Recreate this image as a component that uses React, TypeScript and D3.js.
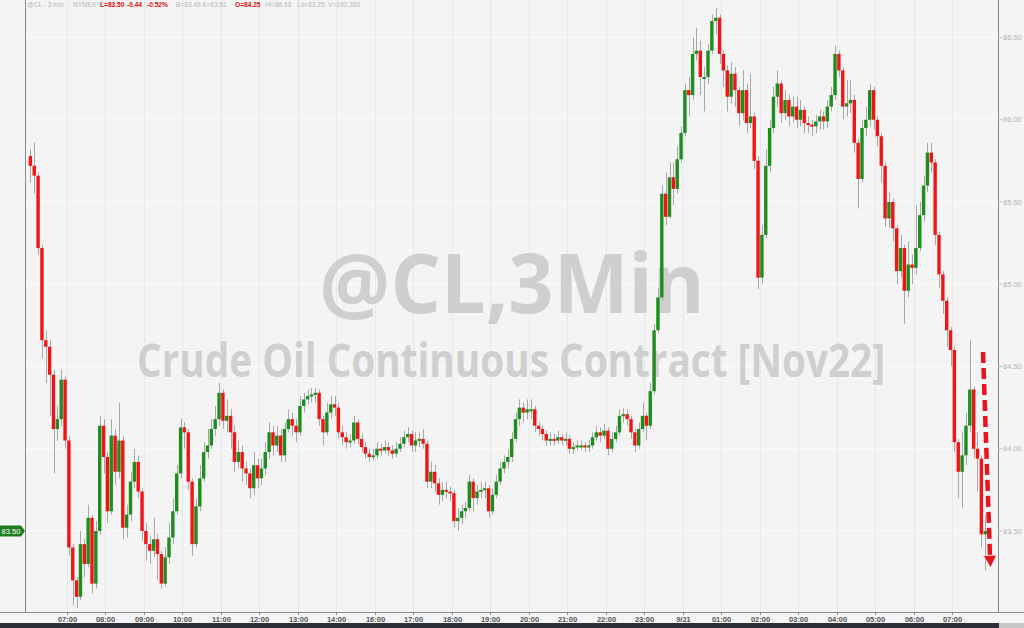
import React from "react";
import * as d3 from "d3";

const firstOpen = 85.78;
const closes = [
  85.72, 85.66, 85.22, 84.66, 84.62, 84.45, 84.12, 84.18, 84.42, 84.05,
  83.40, 83.20, 83.10, 83.42, 83.30, 83.58, 83.18, 83.50, 84.14, 83.95,
  83.62, 84.08, 83.86, 84.05, 83.52, 83.60, 83.80, 83.92, 83.74, 83.50,
  83.42, 83.38, 83.45, 83.36, 83.18, 83.34, 83.46, 83.62, 83.85, 84.13,
  84.10, 83.80, 83.42, 83.65, 83.82, 83.98, 84.02, 84.12, 84.18, 84.34,
  84.17, 84.20, 84.10, 83.92, 83.98, 83.88, 83.85, 83.76, 83.90, 83.82,
  83.88, 83.98, 84.10, 84.02, 84.08, 83.96, 84.12, 84.18, 84.14, 84.10,
  84.26, 84.30, 84.32, 84.33, 84.34, 84.18, 84.10, 84.22, 84.27, 84.25,
  84.10, 84.07, 84.04, 84.05, 84.16, 84.06, 84.01, 83.97, 83.95, 83.96,
  84.00, 83.99, 84.01, 83.99, 83.97, 84.00, 84.03, 84.07, 84.09, 84.02,
  84.05, 84.06, 84.03, 83.80, 83.86, 83.79, 83.72, 83.75, 83.74, 83.73,
  83.56, 83.58, 83.62, 83.64, 83.80, 83.70, 83.74, 83.75, 83.76, 83.62,
  83.72, 83.80, 83.88, 83.92, 83.95, 84.06, 84.18, 84.25, 84.22, 84.24,
  84.24, 84.14, 84.12, 84.09, 84.05, 84.06, 84.05, 84.07, 84.05, 84.06,
  84.00, 84.01, 84.02, 84.02, 84.01, 84.02, 84.07, 84.10, 84.08, 84.11,
  84.00, 84.06, 84.10, 84.20, 84.21, 84.18, 84.10, 84.02, 84.12, 84.20,
  84.14, 84.35, 84.72, 84.92, 85.55, 85.41, 85.65, 85.58, 85.76, 85.92,
  86.18, 86.15, 86.40, 86.42, 86.26, 86.26, 86.42, 86.60, 86.62, 86.40,
  86.30, 86.14, 86.28, 86.18, 86.04, 86.18, 85.98, 86.02, 85.75, 85.04,
  85.30, 85.72, 85.95, 86.14, 86.22, 86.04, 86.12, 86.02, 86.08, 86.00,
  86.06, 85.98, 85.97, 85.96, 85.99, 86.02, 85.99, 86.08, 86.15, 86.40,
  86.30, 86.08, 86.10, 86.12, 85.86, 85.64, 85.95, 86.00, 86.18, 86.00,
  85.90, 85.72, 85.40, 85.50, 85.34, 85.08, 85.22, 84.96, 85.12, 85.10,
  85.22, 85.42, 85.60, 85.80, 85.74, 85.30, 85.06, 84.90, 84.72, 84.60,
  84.04, 83.86, 83.96, 84.14, 84.36, 84.00, 83.94, 83.48, 83.50,
];
const highs = [
  85.82, 85.86, 85.68, 85.24, 84.72, 84.66, 84.48, 84.26, 84.48, 84.44,
  84.08, 83.42, 83.22, 83.50, 83.45, 83.66, 83.60, 83.56, 84.20, 84.18,
  83.98, 84.18, 84.12, 84.28, 84.08, 83.66, 83.86, 84.00, 83.96, 83.76,
  83.55, 83.47, 83.58, 83.48, 83.38, 83.40, 83.55, 83.70, 83.90, 84.18,
  84.16, 84.12, 83.82, 83.70, 83.90, 84.04, 84.12, 84.18, 84.26, 84.40,
  84.36, 84.30, 84.24, 84.14, 84.05, 84.02, 83.92, 83.88, 83.98, 83.94,
  83.94, 84.04, 84.16, 84.14, 84.14, 84.12, 84.16, 84.24, 84.22, 84.18,
  84.32, 84.34, 84.36, 84.37, 84.37, 84.36, 84.20, 84.28, 84.32, 84.32,
  84.28, 84.14, 84.10, 84.09, 84.20, 84.18, 84.09, 84.04, 84.00, 84.00,
  84.04, 84.03, 84.05, 84.04, 84.02, 84.04, 84.07, 84.11, 84.13, 84.11,
  84.10, 84.10, 84.12, 84.05, 83.92, 83.90, 83.82, 83.80, 83.80, 83.77,
  83.75, 83.64, 83.66, 83.68, 83.84, 83.82, 83.78, 83.80, 83.80, 83.78,
  83.76, 83.84, 83.92, 83.96, 84.00, 84.10, 84.22, 84.30, 84.28, 84.30,
  84.30, 84.26, 84.16, 84.14, 84.11, 84.10, 84.09, 84.11, 84.09, 84.10,
  84.08, 84.04, 84.05, 84.05, 84.04, 84.05, 84.10, 84.14, 84.13, 84.15,
  84.13, 84.10, 84.14, 84.24, 84.25, 84.24, 84.20, 84.12, 84.16, 84.28,
  84.22, 84.40, 84.76, 84.98, 85.60, 85.68, 85.74, 85.74, 85.84, 85.96,
  86.22, 86.26, 86.50, 86.56, 86.48, 86.32, 86.46, 86.64, 86.68, 86.64,
  86.42, 86.33, 86.35, 86.32, 86.20, 86.30, 86.22, 86.28, 86.04, 85.78,
  85.36, 85.82, 86.00, 86.20, 86.30, 86.24, 86.18, 86.15, 86.14, 86.14,
  86.12, 86.08, 86.02, 86.00, 86.03, 86.06, 86.05, 86.12, 86.20, 86.45,
  86.42, 86.32, 86.24, 86.24, 86.15, 85.88, 86.00, 86.08, 86.22, 86.20,
  86.02, 85.92, 85.74, 85.56, 85.52, 85.36, 85.30, 85.24, 85.26, 85.18,
  85.48, 85.50, 85.66, 85.86, 85.86, 85.76, 85.32, 85.08, 84.92, 84.74,
  84.62, 84.06, 84.10, 84.22, 84.66, 84.38, 84.10, 83.96, 83.60,
];
const lows = [
  85.62, 85.55, 85.18, 84.55, 84.40, 84.20, 83.85, 84.05, 84.14, 84.00,
  83.35, 83.05, 83.03, 83.08, 83.22, 83.28, 83.12, 83.15, 83.48, 83.85,
  83.55, 83.60, 83.78, 83.82, 83.45, 83.46, 83.56, 83.76, 83.70, 83.44,
  83.32, 83.30, 83.34, 83.20, 83.15, 83.16, 83.30, 83.42, 83.60, 83.82,
  84.00, 83.75, 83.35, 83.40, 83.62, 83.80, 83.94, 84.00, 84.08, 84.14,
  84.12, 84.10, 84.00, 83.86, 83.88, 83.80, 83.78, 83.70, 83.72, 83.76,
  83.78, 83.84, 83.94, 83.96, 83.98, 83.92, 83.92, 84.10, 84.08, 84.04,
  84.08, 84.22, 84.27, 84.28, 84.28, 84.14, 84.02, 84.08, 84.18, 84.20,
  84.06, 84.02, 84.00, 84.01, 84.03, 84.03, 83.98, 83.94, 83.92, 83.93,
  83.94, 83.96, 83.97, 83.96, 83.94, 83.95, 83.98, 84.01, 84.04, 83.98,
  83.98, 84.01, 84.00, 83.76, 83.76, 83.74, 83.66, 83.68, 83.70, 83.68,
  83.52, 83.50, 83.54, 83.58, 83.62, 83.62, 83.66, 83.70, 83.70, 83.58,
  83.60, 83.70, 83.78, 83.85, 83.88, 83.92, 84.04, 84.14, 84.16, 84.18,
  84.18, 84.10, 84.08, 84.05, 84.02, 84.02, 84.02, 84.03, 84.02, 84.02,
  83.97, 83.97, 83.99, 83.99, 83.98, 83.98, 84.00, 84.05, 84.04, 84.06,
  83.96, 83.98, 84.04, 84.08, 84.16, 84.14, 84.06, 83.98, 84.00, 84.10,
  84.05, 84.12, 84.33, 84.70, 84.90, 85.36, 85.40, 85.48, 85.55, 85.74,
  85.90, 86.02, 86.12, 86.36, 86.15, 86.05, 86.22, 86.40, 86.52, 86.34,
  86.20, 86.05, 86.10, 86.08, 85.96, 86.00, 85.92, 85.95, 85.70, 84.97,
  85.00, 85.28, 85.68, 85.92, 86.08, 85.98, 86.00, 85.96, 85.98, 85.95,
  85.96, 85.92, 85.92, 85.90, 85.92, 85.94, 85.94, 85.95, 86.05, 86.12,
  86.26, 86.00, 86.02, 86.04, 85.80, 85.46, 85.62, 85.90, 85.96, 85.94,
  85.84, 85.62, 85.35, 85.34, 85.26, 85.00, 85.04, 84.76, 84.92, 85.00,
  85.06, 85.20, 85.38, 85.56, 85.68, 85.24, 84.98, 84.82, 84.62, 84.50,
  83.98, 83.70, 83.64, 83.90, 84.10, 83.94, 83.74, 83.40, 83.26,
];

const hourLabels = [
  "07:00", "08:00", "09:00", "10:00", "11:00", "12:00", "13:00", "14:00",
  "16:00", "17:00", "18:00", "19:00", "20:00", "21:00", "22:00", "23:00",
  "9/21", "01:00", "02:00", "03:00", "04:00", "05:00", "06:00", "07:00",
];
const barsPerHour = 10;
const priceTicks = [83.5, 84.0, 84.5, 85.0, 85.5, 86.0, 86.5];

const headerItems = [
  { t: "@CL - 3 min", red: false },
  { t: "NYMEX", red: false },
  { t: "L=83.50", red: true },
  { t: "-0.44", red: true },
  { t: "-0.52%", red: true },
  { t: "B=83.49", red: false },
  { t: "A=83.51", red: false },
  { t: "O=84.25", red: true },
  { t: "Hi=86.68", red: false },
  { t: "Lo=83.25", red: false },
  { t: "V=190,385", red: false },
];
const headerX = [27, 73, 100, 127, 147, 176, 202, 235, 265, 297, 328];

const lastPrice = 83.5;

export default function App() {
  const W = 1024;
  const H = 628;
  const plotLeft = 25;
  const plotRight = 998;
  const plotBottom = 612;

  const x = d3.scaleLinear().domain([0, 240]).range([30.4, 30.4 + 924]);
  const y = d3.scaleLinear().domain([83.5, 86.5]).range([531, 37.5]);

  const opens = closes.map((c, i) => (i === 0 ? firstOpen : closes[i - 1]));
  const red = "#f01414";
  const green = "#1e8c1e";

  const arrowPts = [
    [983, 352],
    [990, 556],
  ];

  return (
    <svg
      width={W}
      height={H}
      style={{ position: "absolute", left: 0, top: 0, background: "#f4f4f4" }}
      fontFamily="'Liberation Sans', Arial, sans-serif"
    >
      <rect x={0} y={0} width={W} height={H} fill="#f4f4f4" />
      {/* grid */}
      {priceTicks.map((p) => (
        <line key={"hg" + p} x1={plotLeft} x2={plotRight} y1={y(p)} y2={y(p)} stroke="#fcfcfc" strokeWidth={1.2} />
      ))}
      {hourLabels.map((l, k) => {
        const xx = Math.round(x((k + 1) * barsPerHour - 0.5)) + 0.5;
        return <line key={"vg" + k} x1={xx} x2={xx} y1={0} y2={plotBottom} stroke="#e8e8e8" strokeWidth={1} />;
      })}

      {/* watermark */}
      <g transform="translate(512,313) scale(0.94,1)">
        <text x={0} y={0} textAnchor="middle" fontFamily="'Open Sans', sans-serif" fontWeight="bold" fontSize={82} fill="#cfcfcf" textLength={410} lengthAdjust="spacingAndGlyphs">@CL,3Min</text>
      </g>
      <g transform="translate(511,377) scale(0.8,1)">
        <text x={0} y={0} textAnchor="middle" fontFamily="'Open Sans', sans-serif" fontWeight="bold" fontSize={47} fill="#cfcfcf" textLength={935} lengthAdjust="spacingAndGlyphs">Crude Oil Continuous Contract [Nov22]</text>
      </g>

      {/* wicks */}
      {closes.map((c, i) => {
        const o = opens[i];
        const hi = Math.max(highs[i], o, c);
        const lo = Math.min(lows[i], o, c);
        const xx = Math.round(x(i)) + 0.5;
        return <line key={"w" + i} x1={xx} x2={xx} y1={y(hi)} y2={y(lo)} stroke="#a8a8a8" strokeWidth={1} />;
      })}
      {/* bodies */}
      {closes.map((c, i) => {
        const o = opens[i];
        const top = y(Math.max(o, c));
        const h = Math.max(2, Math.abs(y(o) - y(c)));
        return (
          <rect key={"b" + i} x={x(i) - 1.7} y={top} width={3.4} height={h} fill={c < o ? red : green} />
        );
      })}

      {/* axes */}
      <line x1={plotLeft + 0.5} x2={plotLeft + 0.5} y1={0} y2={plotBottom} stroke="#8a8a8a" />
      <line x1={plotRight + 0.5} x2={plotRight + 0.5} y1={0} y2={plotBottom} stroke="#8a8a8a" />
      <line x1={0} x2={W} y1={plotBottom + 0.5} y2={plotBottom + 0.5} stroke="#8a8a8a" />

      {priceTicks.map((p) => (
        <g key={"pt" + p}>
          <line x1={plotRight} x2={plotRight + 4} y1={y(p)} y2={y(p)} stroke="#bdbdbd" />
          <text x={1003} y={y(p) + 2.5} fontSize={7.5} fill="#b4b4b4">{p.toFixed(2)}</text>
        </g>
      ))}

      {hourLabels.map((l, k) => {
        const xx = Math.round(x((k + 1) * barsPerHour - 0.5)) + 0.5;
        return (
          <g key={"xl" + k}>
            <line x1={xx} x2={xx} y1={plotBottom} y2={plotBottom + 3} stroke="#8a8a8a" />
            <text x={xx} y={622} textAnchor="middle" fontSize={7.5} fontWeight="bold" fill="#555">{l}</text>
          </g>
        );
      })}

      {/* bottom bar */}
      <rect x={0} y={623} width={W} height={5} fill="#2c3036" />
      <rect x={999} y={623} width={25} height={5} fill="#c8c8c8" />

      {/* header */}
      {headerItems.map((h, i) => (
        <text key={"h" + i} x={headerX[i]} y={7} fontSize={6.6} fontWeight={h.red ? "bold" : "normal"} fill={h.red ? "#e01010" : "#b8b8b8"}>{h.t}</text>
      ))}

      {/* last price label */}
      <path d={`M0,${y(lastPrice) - 5.5} L21,${y(lastPrice) - 5.5} L25,${y(lastPrice)} L21,${y(lastPrice) + 5.5} L0,${y(lastPrice) + 5.5} Z`} fill="#1e7e1e" />
      <text x={11} y={y(lastPrice) + 2.6} textAnchor="middle" fontSize={7.5} fill="#ffffff">{lastPrice.toFixed(2)}</text>

      {/* red dashed arrow */}
      <line x1={arrowPts[0][0]} y1={arrowPts[0][1]} x2={arrowPts[1][0]} y2={arrowPts[1][1]} stroke="#e8141c" strokeWidth={4.5} strokeDasharray="11 5" />
      <path d={`M${arrowPts[1][0] - 6},${arrowPts[1][1]} L${arrowPts[1][0] + 6},${arrowPts[1][1] - 0.5} L${arrowPts[1][0] + 0.6},${arrowPts[1][1] + 11} Z`} fill="#e8141c" />
    </svg>
  );
}
